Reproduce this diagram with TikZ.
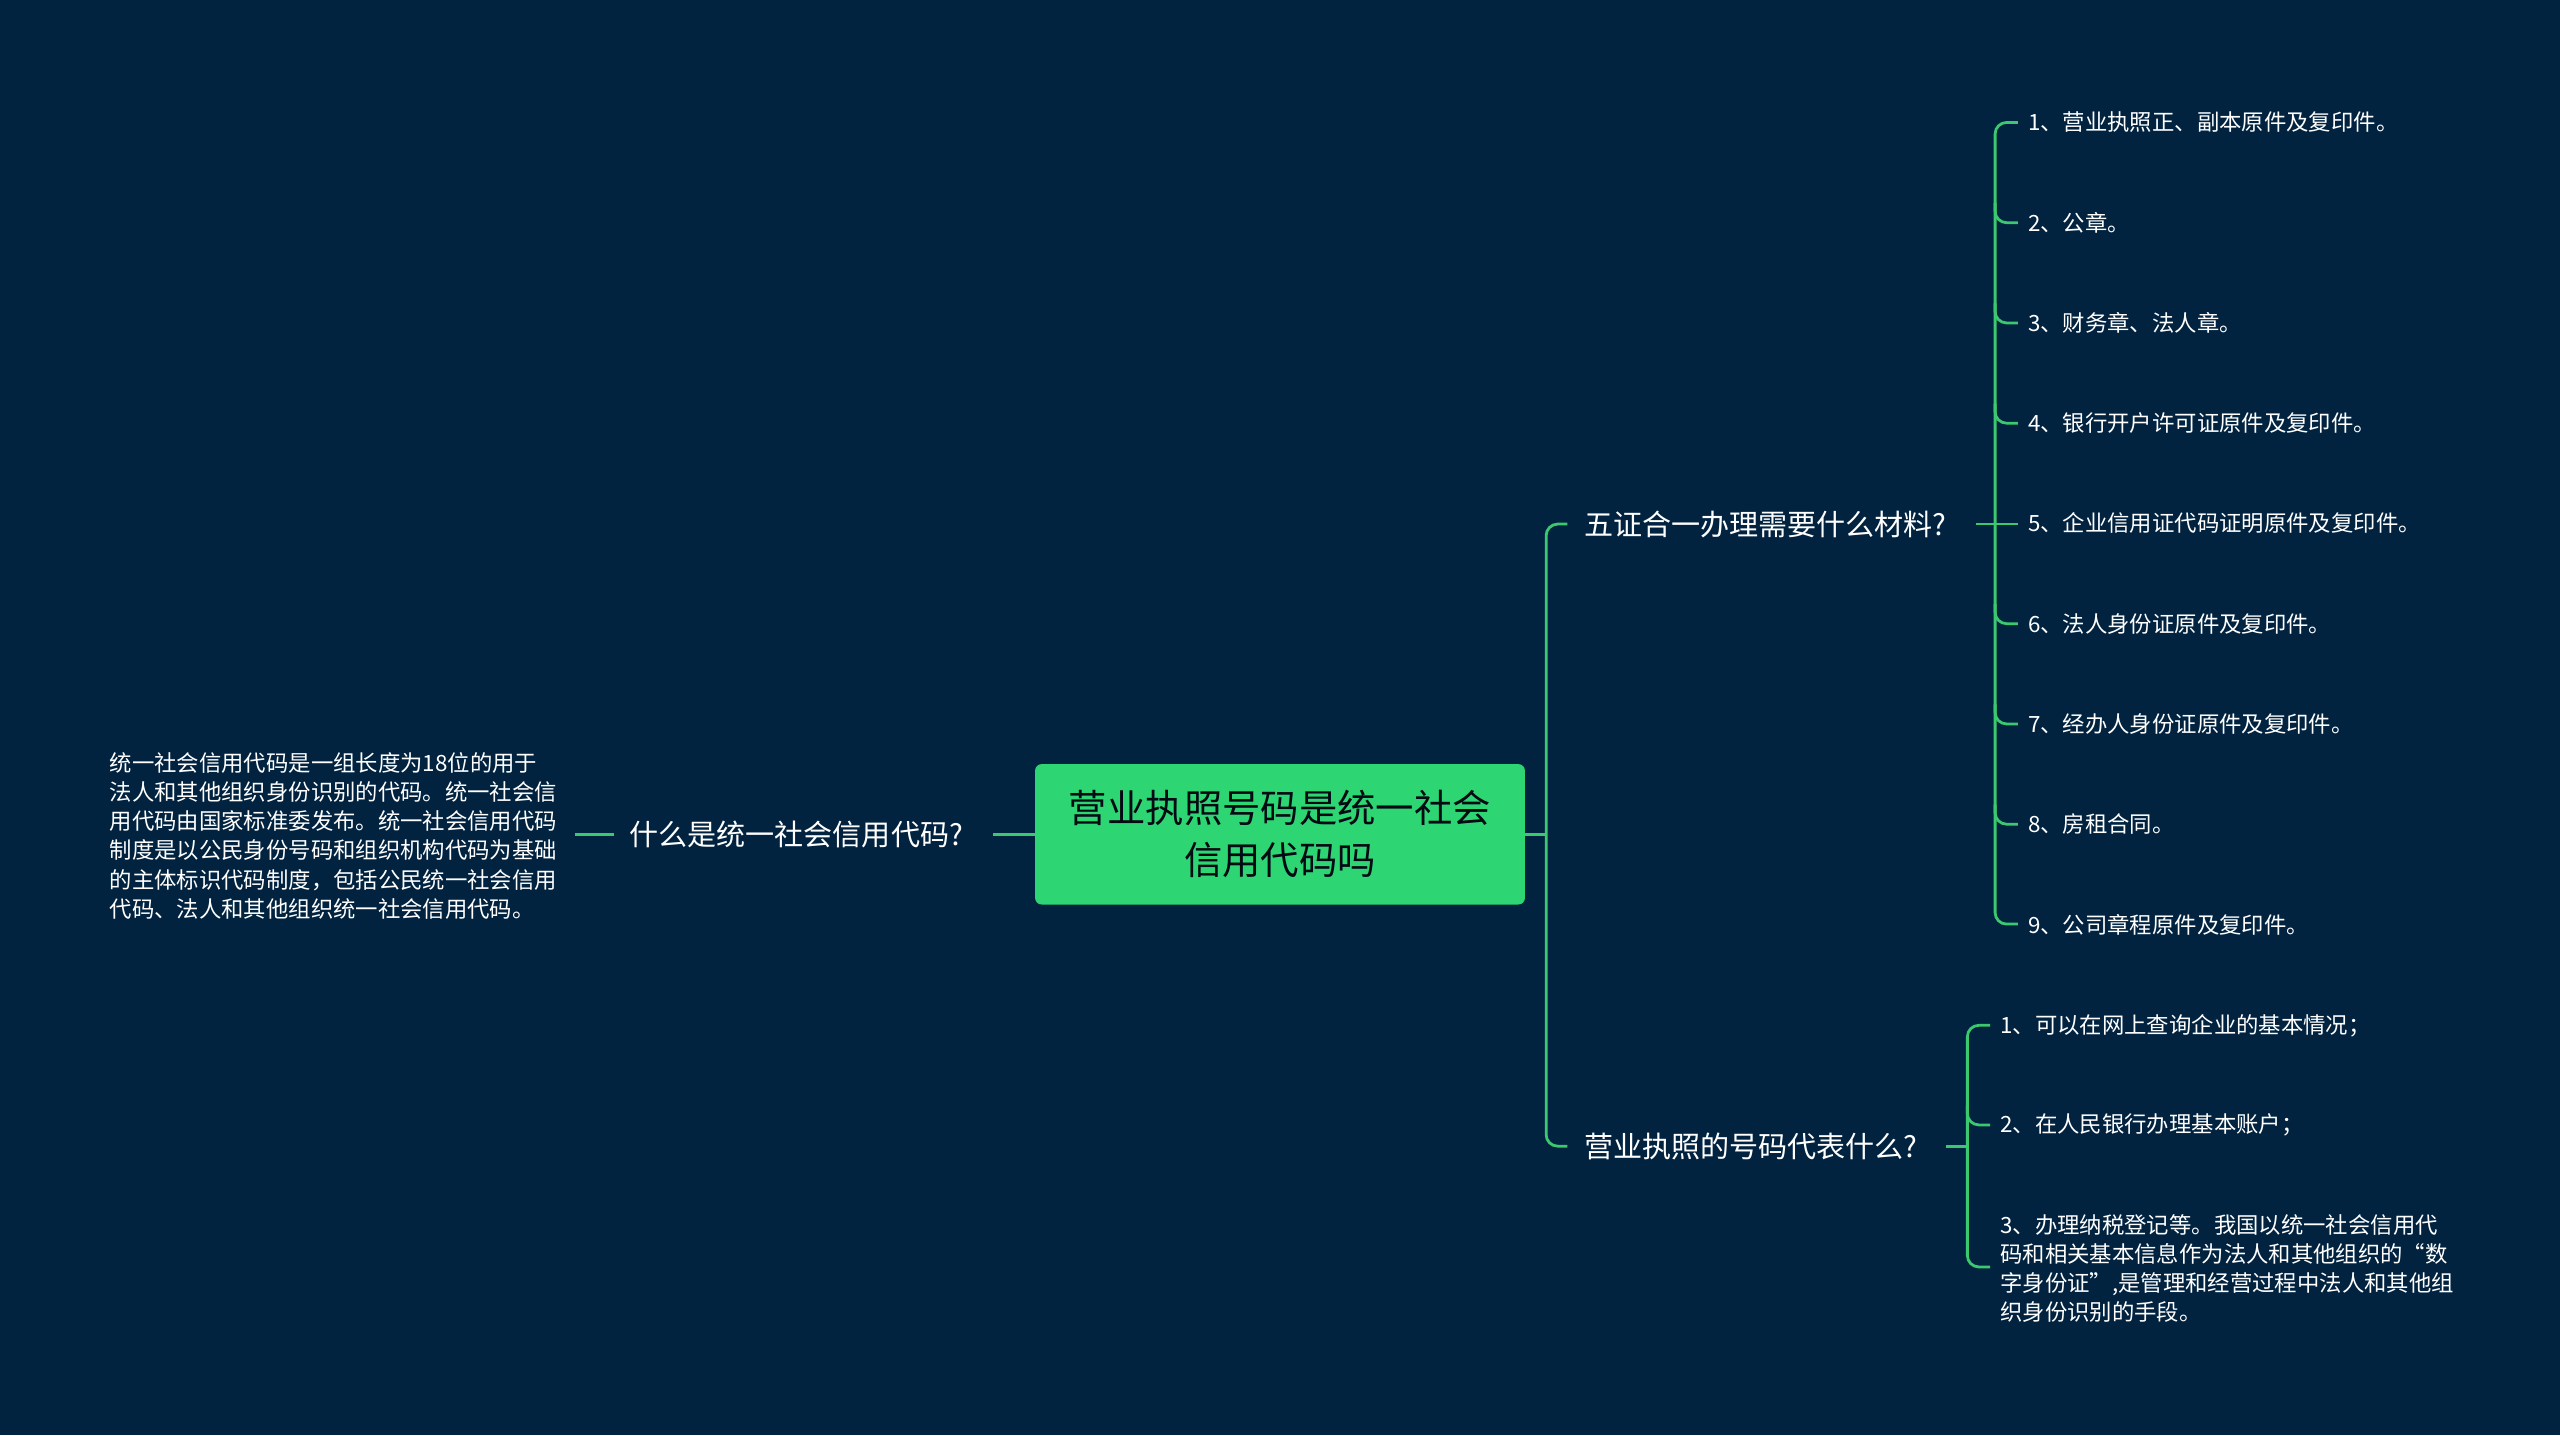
\documentclass[tikz,border=0pt]{standalone}
\usepackage{fontspec}
\setmainfont{Noto Sans CJK SC}
\definecolor{bg}{RGB}{1,35,64}
\definecolor{gr}{RGB}{46,213,115}
\definecolor{ln}{RGB}{60,200,110}
\begin{document}
\begin{tikzpicture}[x=1pt,y=-1pt,
  conn/.style={draw=ln,line width=1.7pt,rounded corners=7pt},
  lvl1/.style={text=white,font=\fontsize{17.8}{20}\selectfont,anchor=west,inner sep=0pt},
  leaf/.style={text=white,font=\fontsize{13.7}{17.8}\selectfont,anchor=west,inner sep=0pt,align=left}]
\fill[bg] (0,0) rectangle (1568,879);
\useasboundingbox (0,0) rectangle (1568,879);
\node[fill=gr,rounded corners=4pt,minimum width=300pt,minimum height=86pt,align=center,
  text=black!70!bg,font=\fontsize{23.5}{32}\selectfont] (c) at (784,511) {营业执照号码是统一社会\\信用代码吗};
% left
\node[lvl1,anchor=east] (l1) at (590,511) {什么是统一社会信用代码?};
\node[leaf,anchor=west] (l2) at (67,512) {统一社会信用代码是一组长度为18位的用于\\法人和其他组织身份识别的代码。统一社会信\\用代码由国家标准委发布。统一社会信用代码\\制度是以公民身份号码和组织机构代码为基础\\的主体标识代码制度，包括公民统一社会信用\\代码、法人和其他组织统一社会信用代码。};
\draw[conn] (c.west) -- (608,511);
\draw[conn] (376,511) -- (352,511);
% right level1
\node[lvl1] (r1) at (970,321) {五证合一办理需要什么材料?};
\node[lvl1] (r2) at (970,702) {营业执照的号码代表什么?};
\coordinate (cr) at (947,511);
\draw[conn] (c.east) -- (cr);
\draw[conn] (960,321) -- (947,321) -- (947,702) -- (960,702);
% r1 children
\foreach \t [count=\i] in {1、营业执照正、副本原件及复印件。,2、公章。,3、财务章、法人章。,4、银行开户许可证原件及复印件。,5、企业信用证代码证明原件及复印件。,6、法人身份证原件及复印件。,7、经办人身份证原件及复印件。,8、房租合同。,9、公司章程原件及复印件。}{
  \pgfmathsetmacro\yy{75+61.4*(\i-1)}
  \node[leaf] (a\i) at (1242,\yy) {\t};
}
\draw[conn] (1210,321) -- (1236,321);
\draw[conn] (1236,75) -- (1222,75) -- (1222,566) -- (1236,566);
\foreach \i in {2,3,4,6,7,8}{
  \draw[conn] (1222,{75+61.4*(\i-1)-12}) -- (1222,{75+61.4*(\i-1)}) -- (1236,{75+61.4*(\i-1)});
}
% r2 children
\node[leaf] (b1) at (1225,628) {1、可以在网上查询企业的基本情况；};
\node[leaf] (b2) at (1225,689) {2、在人民银行办理基本账户；};
\node[leaf] (b3) at (1225,777) {3、办理纳税登记等。我国以统一社会信用代\\码和相关基本信息作为法人和其他组织的“数\\字身份证”,是管理和经营过程中法人和其他组\\织身份识别的手段。};
\draw[conn] (1192,702) -- (1205,702);
\draw[conn] (1219,628) -- (1205,628) -- (1205,776) -- (1219,776);
\draw[conn] (1205,677) -- (1205,689) -- (1219,689);
\end{tikzpicture}
\end{document}
